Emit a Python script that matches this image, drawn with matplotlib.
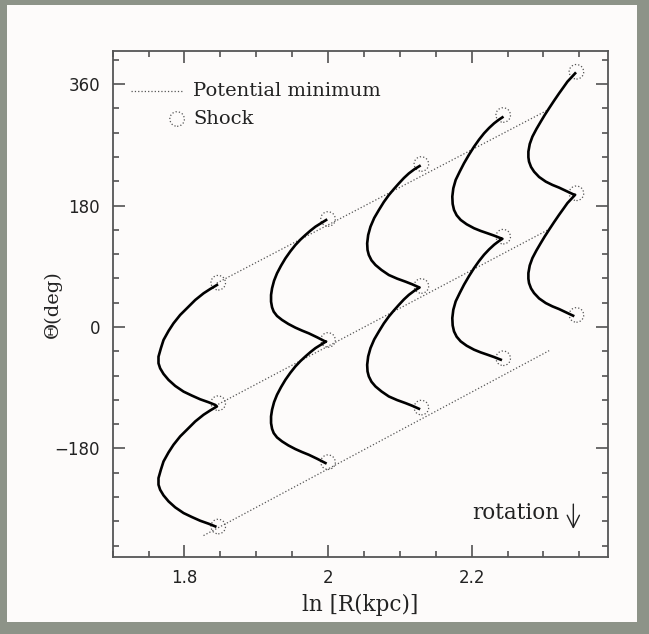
import numpy as np
import matplotlib.pyplot as plt
from matplotlib.patches import Rectangle

# upper end of each streamline: ln R and theta (deg)
col_x = [1.8452, 1.9973, 2.1275, 2.2429, 2.3442]
col_theta = [62.2, 158.5, 238.5, 310.7, 375.9]

# one arc (shock to shock) of each streamline, offsets from its upper end
arc_dx = [
    [0, -0.0093, -0.0186, -0.0302, -0.0419, -0.0512, -0.0605, -0.0674, -0.0744, -0.0781, -0.0814,
     -0.0814, -0.0791, -0.0744, -0.0674, -0.0581, -0.0465, -0.0349, -0.0233, -0.0116, -0.0023],
    [0, -0.0074, -0.0149, -0.0219, -0.0288, -0.0358, -0.0428, -0.0498, -0.0567, -0.0628, -0.0684,
     -0.0725, -0.0753, -0.0767, -0.0767, -0.0753, -0.0730, -0.0684, -0.0614, -0.0525, -0.0428,
     -0.0335, -0.0242, -0.0126, -0.0009],
    [0, -0.0074, -0.0149, -0.0219, -0.0288, -0.0358, -0.0428, -0.0498, -0.0567, -0.0632, -0.0684,
     -0.0716, -0.0730, -0.0725, -0.0707, -0.0670, -0.0614, -0.0530, -0.0428, -0.0312, -0.0195,
     -0.0102, -0.0009],
    [0, -0.0056, -0.0116, -0.0186, -0.0256, -0.0326, -0.0395, -0.0465, -0.0535, -0.0595, -0.0651,
     -0.0684, -0.0698, -0.0693, -0.0674, -0.0637, -0.0581, -0.0498, -0.0395, -0.0302, -0.0209,
     -0.0116, -0.0023],
    [0, -0.0051, -0.0107, -0.0163, -0.0223, -0.0293, -0.0363, -0.0423, -0.0479, -0.0539, -0.0595,
     -0.0632, -0.0651, -0.0651, -0.0642, -0.0614, -0.0572, -0.0502, -0.0409, -0.0316, -0.0223,
     -0.0126, -0.0028],
]
arc_dtheta = [
    [0, -5.9, -12.3, -22.2, -34.6, -44.4, -56.8, -68.1, -81.5, -93.8, -106.2,
     -116.0, -123.5, -131.8, -140.7, -149.6, -158.0, -163.9, -169.4, -173.8, -177.8],
    [0, -4.9, -9.9, -15.8, -22.2, -29.1, -37.0, -46.4, -56.8, -67.7, -79.0,
     -89.9, -101.2, -111.1, -121.0, -129.4, -135.8, -142.2, -148.1, -154.1, -159.5,
     -163.9, -167.9, -173.8, -180.2],
    [0, -4.9, -10.9, -17.8, -25.7, -34.1, -43.0, -53.3, -65.2, -77.0, -89.9,
     -102.2, -114.6, -124.4, -131.8, -139.7, -146.7, -154.1, -161.5, -166.9, -171.4,
     -175.3, -179.7],
    [0, -4.0, -8.9, -15.8, -23.7, -33.1, -43.5, -55.3, -68.1, -80.5, -92.8,
     -105.2, -117.5, -128.4, -137.3, -145.2, -152.1, -158.5, -164.4, -168.4, -171.8,
     -175.3, -179.2],
    [0, -5.9, -12.3, -20.7, -29.6, -40.5, -51.8, -61.7, -71.6, -82.5, -93.8,
     -104.7, -116.0, -124.4, -130.9, -138.8, -145.7, -153.6, -160.5, -165.4, -169.4,
     -174.3, -179.2],
]
arm_shift = -180.0  # two-armed pattern: second arc repeats 180 deg lower

# shock positions
shock_x = [1.847, 2.0, 2.130, 2.244, 2.346]
shock_theta = [
    [65.6, -113.0, -295.8],
    [160.0, -19.3, -200.4],
    [241.5, 60.7, -119.5],
    [314.1, 133.8, -46.4],
    [378.2, 198.1, 17.8],
]

# potential minimum lines (end points)
pot_x = [[1.845, 2.306], [1.847, 2.306], [1.8265, 2.308]]
pot_theta = [[65.0, 321.5], [-114.6, 143.7], [-309.2, -35.1]]

fig = plt.figure(figsize=(6.49, 6.34), dpi=100)
fig.patch.set_facecolor('#8d9388')
fig.add_artist(Rectangle((7/649, 12/634), 630/649, 617/634, transform=fig.transFigure,
                         facecolor='#fdfbfa', edgecolor='none', zorder=0))
ax = fig.add_axes([112.7/649, 1 - 556.7/634, 495.3/649, 505.7/634])
ax.set_facecolor('#fdfbfa')

for i in range(len(col_x)):
    xs = []
    ts = []
    for k in range(2):
        for dx, dt in zip(arc_dx[i], arc_dtheta[i]):
            xs.append(col_x[i] + dx)
            ts.append(col_theta[i] + k * arm_shift + dt)
    ax.plot(xs, ts, color='black', lw=1.9, solid_joinstyle='round', zorder=3)

for i in range(len(shock_x)):
    ax.scatter([shock_x[i]] * len(shock_theta[i]), shock_theta[i], s=110,
               facecolors='none', edgecolors='#555555', linewidths=0.9,
               linestyle=':', zorder=2)

for xx, tt in zip(pot_x, pot_theta):
    ax.plot(xx, tt, color='#555555', lw=0.9, ls=':', zorder=1)

ax.set_xlim(1.70, 2.39)
ax.set_ylim(-340.5, 409)
ax.set_xticks([1.8, 2.0, 2.2])
ax.set_xticklabels(['1.8', '2', '2.2'])
ax.set_xticks(np.arange(1.70, 2.39, 0.05), minor=True)
ax.set_yticks([-180, 0, 180, 360])
ax.set_yticklabels(['\u2212180', '0', '180', '360'])
ax.set_yticks(np.arange(-324, 409, 36), minor=True)
ax.tick_params(which='both', direction='in', top=True, right=True,
               color='#444444', width=1.1, labelsize=12, labelcolor='#222222')
ax.tick_params(which='major', length=8.5, pad=9)
ax.tick_params(which='minor', length=4.3)
for sp in ax.spines.values():
    sp.set_color('#555555')
    sp.set_linewidth(1.3)

serif = 'DejaVu Serif'
ax.set_xlabel('ln [R(kpc)]', family=serif, fontsize=15.5, color='#222222', labelpad=5)
ax.set_ylabel('\u0398(deg)', family=serif, fontsize=14, color='#222222')
ax.yaxis.set_label_coords(-0.103, 0.5)

# legend
ax.plot([0.0363, 0.140], [0.921, 0.921], transform=ax.transAxes, color='#555555', lw=0.9, ls=':')
ax.text(0.162, 0.921, 'Potential minimum', transform=ax.transAxes, family=serif,
        fontsize=14, va='center', ha='left', color='#222222')
ax.scatter([0.130], [0.8655], transform=ax.transAxes, s=110, facecolors='none',
           edgecolors='#555555', linewidths=0.9, linestyle=':')
ax.text(0.162, 0.8655, 'Shock', transform=ax.transAxes, family=serif,
        fontsize=14, va='center', ha='left', color='#222222')

ax.text(0.725, 0.0864, 'rotation', transform=ax.transAxes, family=serif,
        fontsize=15.5, va='center', ha='left', color='#222222')
ax.annotate('', xy=(0.930, 0.0548), xytext=(0.930, 0.104), xycoords='axes fraction',
            arrowprops=dict(arrowstyle='->', color='#222222', lw=1.0,
                            mutation_scale=22, shrinkA=0, shrinkB=0))

fig.savefig('out.png', dpi=100, facecolor=fig.get_facecolor())
